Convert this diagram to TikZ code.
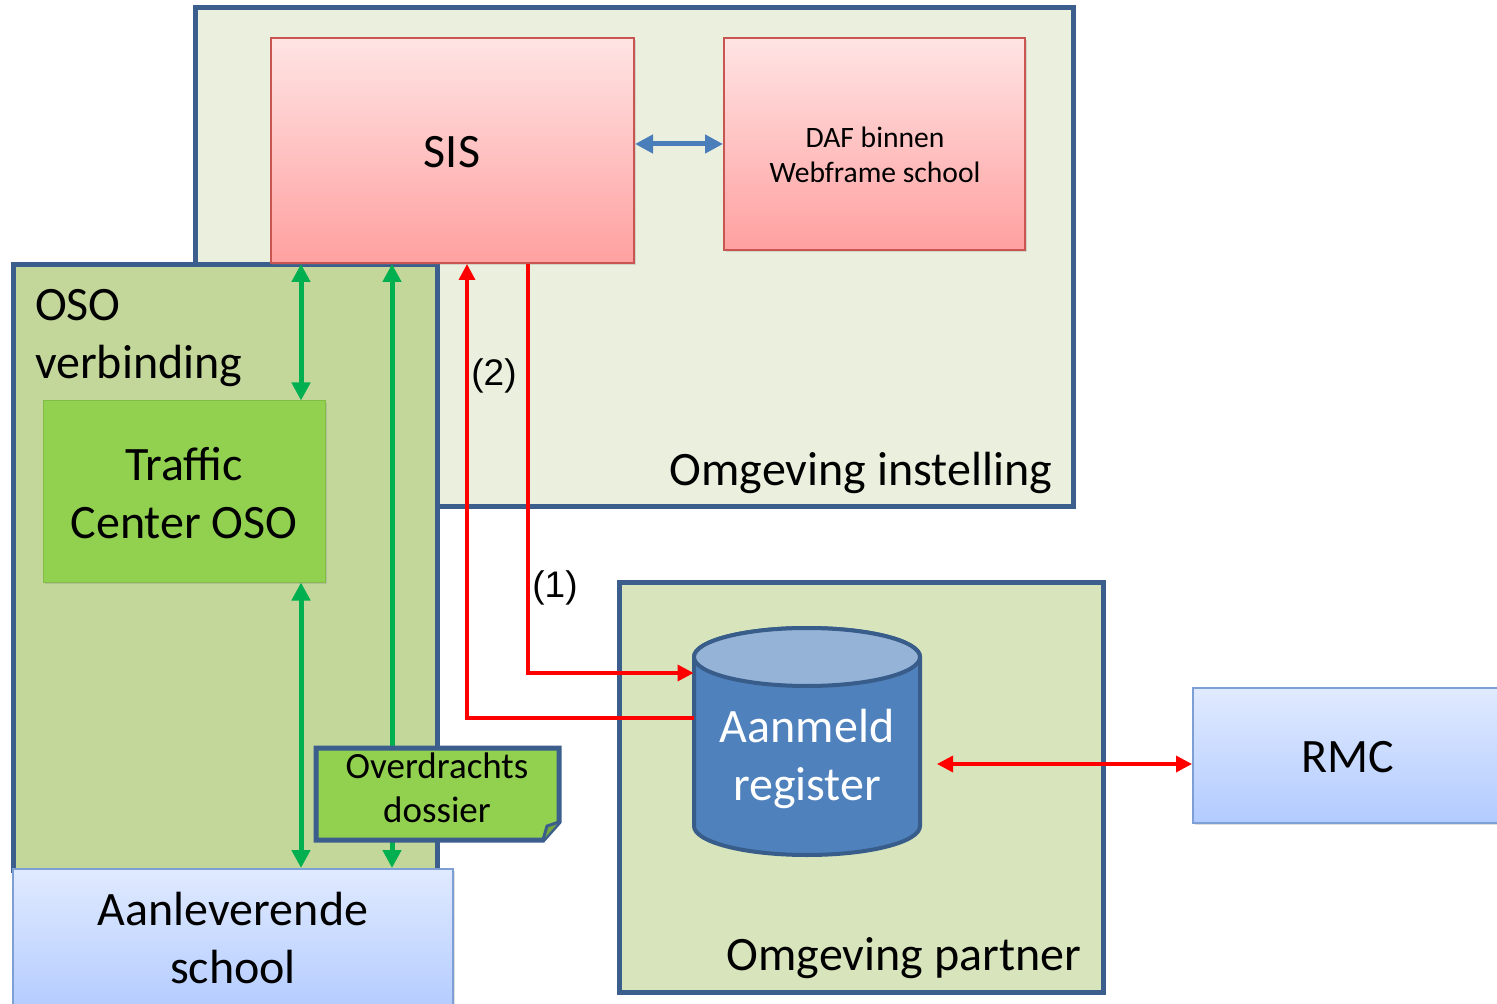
\documentclass[tikz,border=0pt]{standalone}
\usepackage{fontspec}
\setmainfont{Carlito}
\newfontfamily\arialf{Liberation Sans}
\usetikzlibrary{arrows.meta,shadows}
\definecolor{frameblue}{RGB}{59,94,140}
\definecolor{instfill}{RGB}{235,240,222}
\definecolor{osofill}{RGB}{196,215,155}
\definecolor{partfill}{RGB}{216,228,188}
\definecolor{sisborder}{RGB}{200,85,82}
\definecolor{sistop}{RGB}{255,228,228}
\definecolor{sisbot}{RGB}{255,160,160}
\definecolor{tcgreen}{RGB}{146,208,80}
\definecolor{arrgreen}{RGB}{0,176,80}
\definecolor{arrblue}{RGB}{74,126,187}
\definecolor{schtop}{RGB}{224,234,255}
\definecolor{schbot}{RGB}{178,203,255}
\definecolor{schborder}{RGB}{126,159,214}
\definecolor{cylbody}{RGB}{79,129,189}
\definecolor{cyltop}{RGB}{149,179,215}
\definecolor{cylborder}{RGB}{56,93,138}
\tikzset{
  frame/.style={draw=frameblue, line width=2.5pt},
  pinkbox/.style={draw=sisborder, line width=1pt, top color=sistop, bottom color=sisbot,
    drop shadow={shadow xshift=1.2pt, shadow yshift=-1.2pt, opacity=0.25}},
  bluebox/.style={draw=schborder, line width=1pt, top color=schtop, bottom color=schbot,
    drop shadow={shadow xshift=1.2pt, shadow yshift=-1.2pt, opacity=0.25}},
  tcbox/.style={fill=tcgreen, draw=tcgreen!90!black, line width=0.5pt,
    drop shadow={shadow xshift=1.2pt, shadow yshift=-1.2pt, opacity=0.25}},
  bigtxt/.style={font=\fontsize{24}{29}\selectfont, align=center},
  grarr/.style={draw=arrgreen, line width=2.5pt, {Triangle[width=9pt,length=9pt]}-{Triangle[width=9pt,length=9pt]}},
  redarr/.style={draw=red, line width=1.7pt, -{Triangle[width=8pt,length=8pt]}},
  redarrd/.style={draw=red, line width=1.7pt, {Triangle[width=8pt,length=8pt]}-{Triangle[width=8pt,length=8pt]}},
  bluearr/.style={draw=arrblue, line width=2.5pt, {Triangle[width=9pt,length=9pt]}-{Triangle[width=9pt,length=9pt]}},
}
\begin{document}
\begin{tikzpicture}[x=0.5pt,y=-0.5pt]
\useasboundingbox (0,0) rectangle (1497,1004);
% environments
\node[frame, fill=instfill, minimum width=439pt, minimum height=249.5pt, inner sep=0] (inst) at (634,257.5) {};
\node[frame, fill=osofill, minimum width=212pt, minimum height=302.5pt, inner sep=0] (oso) at (225,567.5) {};
\node[frame, fill=partfill, minimum width=242pt, minimum height=205pt, inner sep=0] (part) at (861,787) {};
% boxes
\node[pinkbox, minimum width=181.5pt, minimum height=112.5pt, inner sep=0] (sis) at (452.5,150.5) {};
\node[bigtxt] (sistxt) at (452,152) {SIS};
\node[pinkbox, minimum width=150.5pt, minimum height=106pt, inner sep=0] (daf) at (874.5,144) {};
\node[font=\fontsize{14.8}{17.5}\selectfont, align=center] (daftxt) at (875,155) {DAF binnen\\Webframe school};
\node[tcbox, minimum width=141pt, minimum height=90.5pt, inner sep=0] (tc) at (184,491.5) {};
\node[bigtxt] (tctxt) at (184,493) {Traffic\\Center OSO};
\node[bluebox, minimum width=220pt, minimum height=72pt, inner sep=0] (school) at (233,941) {};
\node[bigtxt] (schtxt) at (233,938) {Aanleverende\\school};
\node[bluebox, minimum width=158.5pt, minimum height=67.5pt, inner sep=0] (rmc) at (1351.5,755.5) {};
\node[bigtxt] (rmctxt) at (1348,757) {RMC};
% labels
\node[bigtxt, align=left, anchor=west] (osolbl) at (28,338) {OSO\\verbinding};
\node[bigtxt, anchor=east] (instlbl) at (1059,473) {Omgeving instelling};
\node[bigtxt, anchor=east] (partlbl) at (1088,958) {Omgeving partner};
% cylinder
\node[minimum width=113pt, minimum height=113.5pt, inner sep=0] (reg) at (807,741.5) {};
\path[fill=cylbody, draw=cylborder, line width=2pt]
  (694,657) -- (694,826) arc[start angle=180, end angle=360, x radius=56.5pt, y radius=14.5pt]
  -- (920,657) arc[start angle=0, end angle=180, x radius=56.5pt, y radius=14.5pt] -- cycle;
\path[fill=cyltop, draw=cylborder, line width=2pt] (807,657) ellipse[x radius=56.5pt, y radius=14.5pt];
\node[bigtxt, text=white] (regtxt) at (807,759) {Aanmeld\\register};
% coordinates
\coordinate (g1) at (301,0);
\coordinate (g2) at (392,0);
\coordinate (k1) at (528,673);
\coordinate (k2) at (467,718);
\coordinate (k3) at (937,764);
% green arrows
\draw[grarr] (sis.south -| g1) -- (tc.north -| g1);
\draw[grarr] (tc.south -| g1) -- (school.north -| g1);
\draw[grarr] (sis.south -| g2) -- (school.north -| g2);
% red arrows
\draw[redarr] (sis.south -| k1) -- (k1) -- (reg.west |- k1);
\draw[redarr] (reg.west |- k2) -- (k2) -- (sis.south -| k2);
\draw[redarrd] (k3) -- (rmc.west |- k3);
\draw[bluearr] (sis.east |- daf.west) -- (daf.west);
\node[font=\arialf\fontsize{18.5}{20}\selectfont] (l2) at (494,376) {(2)};
\node[font=\arialf\fontsize{18.5}{20}\selectfont] (l1) at (555,588) {(1)};
% dossier
\path[frame, fill=tcgreen] (316,748) -- (559,748) -- (559,822) -- (543,840) -- (316,840) -- cycle;
\path[draw=frameblue, line width=1.5pt, fill=tcgreen!80!black] (543,840) -- (547,826) -- (559,822);
\node[font=\fontsize{18.5}{22}\selectfont, align=center] (dossier) at (437,788) {Overdrachts\\dossier};
\end{tikzpicture}
\end{document}
